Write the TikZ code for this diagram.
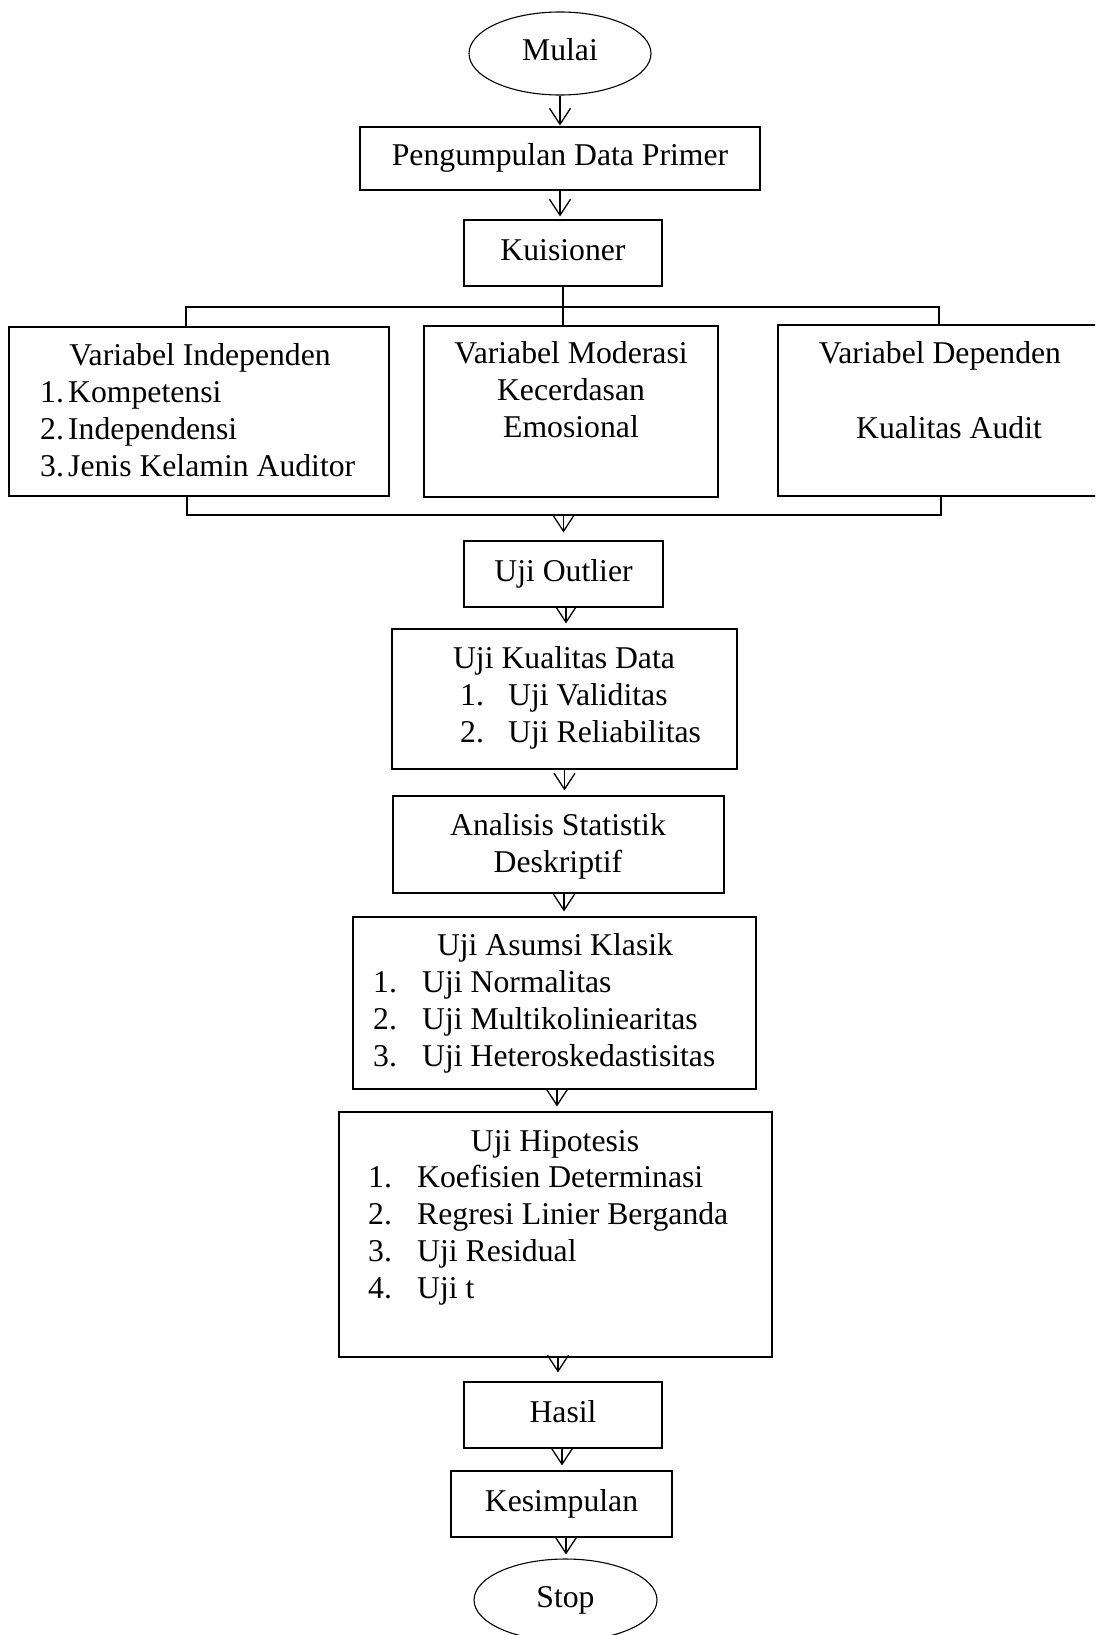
\documentclass[tikz,border=0pt]{standalone}
\usepackage{fontspec}
\setmainfont{Liberation Serif}
\usetikzlibrary{arrows.meta,shapes.geometric}
\begin{document}
\begin{tikzpicture}[x=1pt,y=-1pt,
  font=\fontsize{31.7}{37.3}\selectfont,
  box/.style={draw, line width=1.1pt, inner sep=0pt, rectangle, text height=22pt, text depth=8pt},
  oval/.style={draw, line width=1.1pt, inner sep=0pt, ellipse, text height=22pt, text depth=8pt},
  txt/.style={inner sep=0pt, anchor=base},
  lst/.style={inner sep=0pt, anchor=base west},
  arr/.style={-{Straight Barb[length=16pt,width=21pt]}, line width=1.3pt, shorten >=5pt},
  wire/.style={line width=1.4pt},
]
\useasboundingbox (0,0) rectangle (1095,1635);
\clip (0,0) rectangle (1095,1635);

% main column
\node[oval, minimum width=182pt, minimum height=83pt] (mulai) at (560,53.5) {Mulai};
\node[box, minimum width=400pt, minimum height=63pt] (peng) at (560,158.5) {Pengumpulan Data Primer};
\node[box, minimum width=198pt, minimum height=66pt] (kuis) at (563,253) {Kuisioner};

% variable boxes
\node[box, minimum width=380pt, minimum height=169pt] (vi) at (199,411.5) {};
\node[box, minimum width=294pt, minimum height=171pt] (vm) at (571,411.5) {};
\node[box, minimum width=322pt, minimum height=171pt] (vd) at (939,410.5) {};

\node[txt] (vi-t) at (200,365) {Variabel Independen};
\node[lst] (vi-l) at (40,402) {\begin{tabular}[t]{@{}l@{}}\makebox[28pt][l]{1.}Kompetensi\\ \makebox[28pt][l]{2.}Independensi\\ \makebox[28pt][l]{3.}Jenis Kelamin Auditor\end{tabular}};

\node[txt] (vm-t) at (571,363) {\begin{tabular}[t]{@{}c@{}}Variabel Moderasi\\ Kecerdasan\\ Emosional\end{tabular}};

\node[txt] (vd-t) at (940,363) {Variabel Dependen};
\node[txt] (vd-1) at (949,438) {Kualitas Audit};

% lower column
\node[box, minimum width=199pt, minimum height=66pt] (outl) at (563.5,574) {Uji Outlier};

\node[box, minimum width=345pt, minimum height=140pt] (kual) at (564.5,699) {};
\node[txt] (kual-t) at (564,668) {Uji Kualitas Data};
\node[lst] (kual-l) at (460,705) {\begin{tabular}[t]{@{}l@{}}\makebox[48pt][l]{1.}Uji Validitas\\ \makebox[48pt][l]{2.}Uji Reliabilitas\end{tabular}};

\node[box, minimum width=331pt, minimum height=97pt] (anal) at (558.5,844.5) {};
\node[txt] (anal-t) at (558,835) {\begin{tabular}[t]{@{}c@{}}Analisis Statistik\\ Deskriptif\end{tabular}};

\node[box, minimum width=403pt, minimum height=172pt] (asum) at (554.5,1003) {};
\node[txt] (asum-t) at (555,955) {Uji Asumsi Klasik};
\node[lst] (asum-l) at (373,992) {\begin{tabular}[t]{@{}l@{}}\makebox[49pt][l]{1.}Uji Normalitas\\ \makebox[49pt][l]{2.}Uji Multikoliniearitas\\ \makebox[49pt][l]{3.}Uji Heteroskedastisitas\end{tabular}};

\node[box, minimum width=433pt, minimum height=245pt] (hipo) at (555.5,1234.5) {};
\node[txt] (hipo-t) at (555,1151) {Uji Hipotesis};
\node[lst] (hipo-l) at (368,1187) {\begin{tabular}[t]{@{}l@{}}\makebox[49pt][l]{1.}Koefisien Determinasi\\ \makebox[49pt][l]{2.}Regresi Linier Berganda\\ \makebox[49pt][l]{3.}Uji Residual\\ \makebox[49pt][l]{4.}Uji t\end{tabular}};

\node[box, minimum width=198pt, minimum height=66pt] (hasil) at (563,1415) {Hasil};
\node[box, minimum width=221pt, minimum height=66pt] (kesim) at (561.5,1504) {Kesimpulan};
\node[oval, minimum width=183pt, minimum height=82pt] (stop) at (565.5,1600) {Stop};

% branching
\coordinate (bl) at (186,307);
\coordinate (brt) at (939,307);
\draw[wire] (kuis.south) -- (kuis.south |- vm.north);
\draw[wire] (vi.north -| bl) -- (bl) -- (brt) -- (vd.north);

% merging
\coordinate (ml) at (187,515);
\coordinate (mr) at (941,515);
\draw[wire, line width=2pt] (vi.south -| ml) -- (ml) -- (mr) -- (vd.south -| mr);

% arrows
\draw[arr, shorten >=1pt] (mulai.south) -- (peng.north);
\draw[arr, shorten >=3pt] (peng.south) -- (peng.south |- kuis.north);
\draw[arr, shorten >=8pt] (outl.north |- ml) -- (outl.north);
\draw[arr] ([xshift=2.5pt]outl.south) -- ([xshift=2.5pt]outl.south |- kual.north);
\draw[arr] (kual.south) -- (kual.south |- anal.north);
\draw[arr] ([xshift=5.5pt]anal.south) -- ([xshift=5.5pt]anal.south |- asum.north);
\draw[arr] ([xshift=2.5pt]asum.south) -- ([xshift=2.5pt]asum.south |- hipo.north);
\draw[arr, shorten >=9pt] ([xshift=2.5pt]hipo.south) -- ([xshift=2.5pt]hipo.south |- hasil.north);
\draw[arr] ([xshift=-1pt]hasil.south) -- ([xshift=-1pt]hasil.south |- kesim.north);
\draw[arr, shorten >=4pt] ([xshift=4.5pt]kesim.south) -- ([xshift=4.5pt]kesim.south |- stop.north);
\end{tikzpicture}
\end{document}
